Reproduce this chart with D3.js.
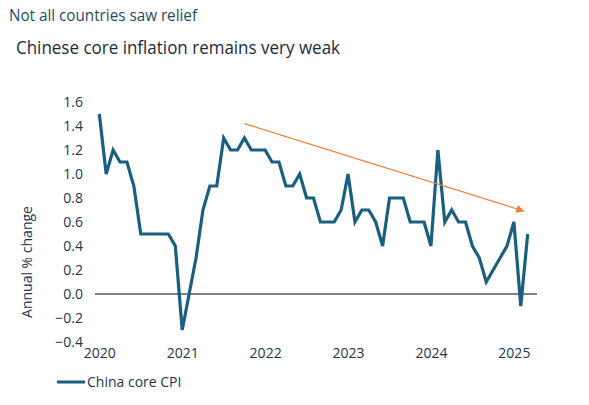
<!DOCTYPE html>
<meta charset="utf-8">
<head>
  <title>China core CPI</title>
</head>

<style>
body { margin: 0; background: #fff; }
text { font-family: "Open Sans", sans-serif; }
.tick text { fill: #1d3550; font-size: 14px; }
</style>

<body>
  <svg width="589" height="405"></svg>

  <script src="https://cdnjs.cloudflare.com/ajax/libs/d3/7.8.5/d3.min.js"></script>
  <script>
// monthly, Jan 2020 .. Mar 2025
var startMonth = '2020-01'
var coreCPI = [
  1.5, 1.0, 1.2, 1.1, 1.1, 0.9, 0.5, 0.5, 0.5, 0.5, 0.5, 0.4,
  -0.3, 0.0, 0.3, 0.7, 0.9, 0.9, 1.3, 1.2, 1.2, 1.3, 1.2, 1.2,
  1.2, 1.1, 1.1, 0.9, 0.9, 1.0, 0.8, 0.8, 0.6, 0.6, 0.6, 0.7,
  1.0, 0.6, 0.7, 0.7, 0.6, 0.4, 0.8, 0.8, 0.8, 0.6, 0.6, 0.6,
  0.4, 1.2, 0.6, 0.7, 0.6, 0.6, 0.4, 0.3, 0.1, 0.2, 0.3, 0.4,
  0.6, -0.1, 0.5
]
var yearLabels = ['2020', '2021', '2022', '2023', '2024', '2025']
var yTicks = [-0.4, -0.2, 0, 0.2, 0.4, 0.6, 0.8, 1.0, 1.2, 1.4, 1.6]
// trend arrow, as (month index, value)
var trendFrom = [21, 1.42]
var trendTo = [61.5, 0.69]

var svg = d3.select('svg')

var x = d3.scaleLinear().domain([0, coreCPI.length - 1]).range([99.3, 527.7])
var y = d3.scaleLinear().domain([-0.4, 1.6]).range([342, 102])

// titles
svg.append('text')
  .attr('x', 9).attr('y', 21)
  .attr('fill', '#1b4e66')
  .style('font-size', '16px')
  .attr('textLength', 188).attr('lengthAdjust', 'spacingAndGlyphs')
  .text('Not all countries saw relief')

svg.append('text')
  .attr('x', 16).attr('y', 54)
  .attr('fill', '#1c2b3c')
  .style('font-size', '19px')
  .attr('textLength', 324).attr('lengthAdjust', 'spacingAndGlyphs')
  .text('Chinese core inflation remains very weak')

// y axis (labels only)
var yAxis = svg.append('g')
  .attr('transform', 'translate(83,0)')
  .call(d3.axisLeft(y).tickValues(yTicks).tickSize(0).tickPadding(0)
    .tickFormat(d3.format('.1f')))
yAxis.select('.domain').remove()
yAxis.selectAll('.tick text').attr('dy', '0.35em')

svg.append('text')
  .attr('transform', 'translate(32,262) rotate(-90)')
  .attr('text-anchor', 'middle')
  .attr('fill', '#1d3550')
  .style('font-size', '14px')
  .text('Annual % change')

// x axis: year labels at each January
var xAxis = svg.append('g')
  .attr('transform', 'translate(0,345)')
  .call(d3.axisBottom(x).tickValues(yearLabels.map(function(d, i) { return i * 12 }))
    .tickSize(0).tickPadding(0)
    .tickFormat(function(d, i) { return yearLabels[i] }))
xAxis.select('.domain').remove()
xAxis.selectAll('.tick text').attr('dy', '0.9em').attr('fill', '#111')

// zero line
svg.append('line')
  .attr('x1', 95).attr('x2', 537)
  .attr('y1', y(0)).attr('y2', y(0))
  .attr('stroke', '#000').attr('stroke-width', 1)

// series
var line = d3.line()
  .x(function(d, i) { return x(i) })
  .y(function(d) { return y(d) })

svg.append('path')
  .datum(coreCPI)
  .attr('fill', 'none')
  .attr('stroke', '#1a5f80')
  .attr('stroke-width', 3.2)
  .attr('stroke-linejoin', 'miter')
  .attr('d', line)

// trend arrow
svg.append('defs').append('marker')
  .attr('id', 'head')
  .attr('viewBox', '0 0 10 10')
  .attr('refX', 10).attr('refY', 5)
  .attr('markerWidth', 8).attr('markerHeight', 8)
  .attr('markerUnits', 'userSpaceOnUse')
  .attr('orient', 'auto')
  .append('path').attr('d', 'M0,0L10,5L0,10z').attr('fill', '#ef7c3a')

svg.append('line')
  .attr('x1', x(trendFrom[0])).attr('y1', y(trendFrom[1]))
  .attr('x2', x(trendTo[0])).attr('y2', y(trendTo[1]))
  .attr('stroke', '#ef7c3a').attr('stroke-width', 1.2)
  .attr('marker-end', 'url(#head)')

// legend
svg.append('line')
  .attr('x1', 57).attr('x2', 85).attr('y1', 382).attr('y2', 382)
  .attr('stroke', '#1a5f80').attr('stroke-width', 3)
svg.append('text')
  .attr('x', 87).attr('y', 387)
  .attr('fill', '#1d3550')
  .style('font-size', '14px')
  .text('China core CPI')
  </script>
</body>
</html>
